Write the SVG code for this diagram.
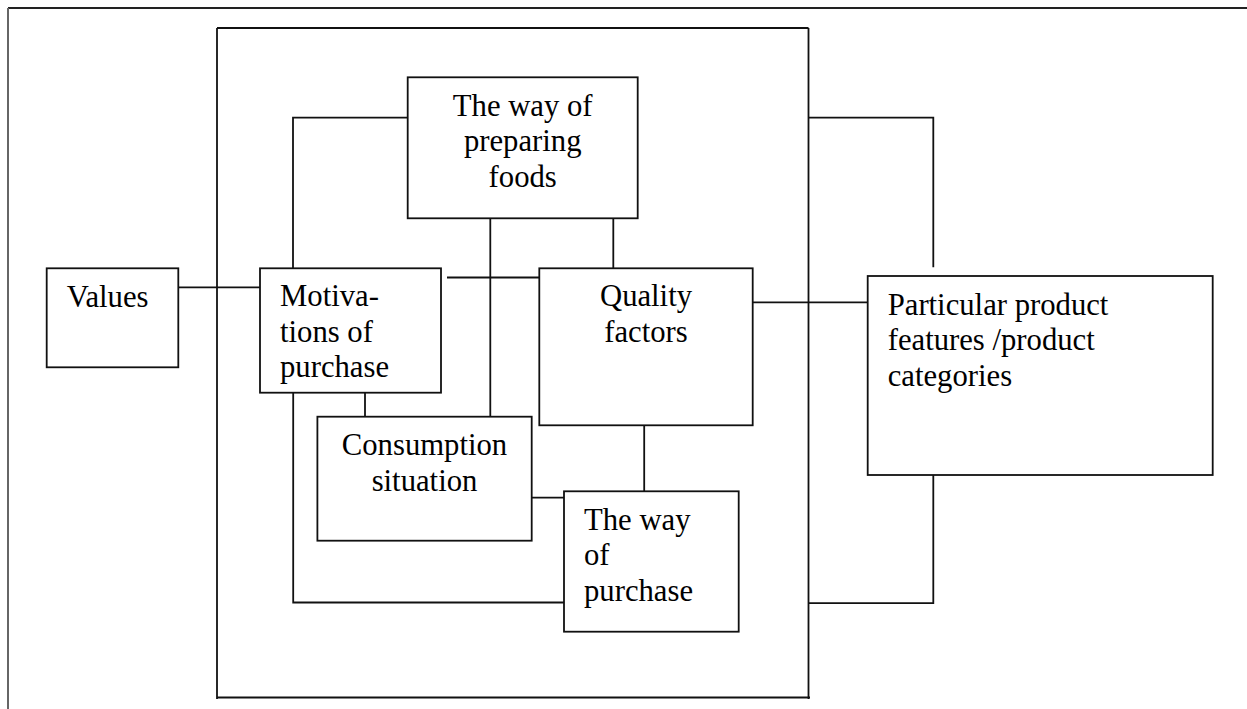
<svg xmlns="http://www.w3.org/2000/svg" width="1247" height="709" viewBox="0 0 1247 709">
<style>
.box{fill:#fff;stroke:#111;stroke-width:1.8}
.ln{fill:none;stroke:#111;stroke-width:1.8}
.t{font-family:"Liberation Serif","Times New Roman",serif;font-size:30.7px;fill:#000}
.c{text-anchor:middle}
</style>
<rect width="1247" height="709" fill="#fff"/>
<g id="page-border">
<line x1="8" y1="8" x2="1247" y2="8" stroke="#222" stroke-width="1.8"/>
<line x1="8" y1="8" x2="8" y2="709" stroke="#666" stroke-width="2"/>
</g>
<g id="frame">
<line class="ln" x1="217" y1="28" x2="808.5" y2="28"/>
<line class="ln" x1="217" y1="28" x2="217" y2="699"/>
<line class="ln" x1="808.5" y1="28" x2="808.5" y2="699"/>
<line class="ln" x1="217" y1="697.5" x2="810" y2="697.5"/>
</g>
<g id="connectors">
<line class="ln" x1="178.3" y1="287.3" x2="260" y2="287.3"/>
<polyline class="ln" points="293,268.3 293,117.7 407.7,117.7"/>
<line class="ln" x1="447" y1="277.5" x2="539.3" y2="277.5"/>
<line class="ln" x1="490.3" y1="218.3" x2="490.3" y2="416.7"/>
<line class="ln" x1="613.3" y1="218.3" x2="613.3" y2="268.3"/>
<line class="ln" x1="365" y1="392.7" x2="365" y2="416.7"/>
<polyline class="ln" points="293.2,392.7 293.2,602.5 564,602.5"/>
<line class="ln" x1="531.7" y1="497.7" x2="564" y2="497.7"/>
<line class="ln" x1="644.2" y1="425.3" x2="644.2" y2="491.3"/>
<line class="ln" x1="752.7" y1="302.3" x2="867.7" y2="302.3"/>
<polyline class="ln" points="808.5,117.6 933.3,117.6 933.3,267.3"/>
<polyline class="ln" points="933.3,475 933.3,603.2 808.5,603.2"/>
</g>
<g id="values">
<rect class="box" x="46.7" y="268.3" width="131.6" height="99"/>
<text class="t" x="66.7" y="306.7">Values</text>
</g>
<g id="preparing">
<rect class="box" x="407.7" y="77.3" width="230" height="141"/>
<text class="t c" x="522.7" y="115.7">The way of</text>
<text class="t c" x="522.7" y="151.2">preparing</text>
<text class="t c" x="522.7" y="186.7">foods</text>
</g>
<g id="motivations">
<rect class="box" x="260" y="268.3" width="181" height="124.4"/>
<text class="t" x="280" y="306">Motiva-</text>
<text class="t" x="280" y="341.5">tions of</text>
<text class="t" x="280" y="377">purchase</text>
</g>
<g id="quality">
<rect class="box" x="539.3" y="268.3" width="213.4" height="157"/>
<text class="t c" x="646" y="306">Quality</text>
<text class="t c" x="646" y="341.5">factors</text>
</g>
<g id="consumption">
<rect class="box" x="317.4" y="416.7" width="214.3" height="124"/>
<text class="t c" x="424.5" y="455">Consumption</text>
<text class="t c" x="424.5" y="490.5">situation</text>
</g>
<g id="purchase-way">
<rect class="box" x="564" y="491.3" width="174.7" height="140.4"/>
<text class="t" x="584" y="529.5">The way</text>
<text class="t" x="584" y="565">of</text>
<text class="t" x="584" y="600.5">purchase</text>
</g>
<g id="product">
<rect class="box" x="867.7" y="276" width="345" height="199"/>
<text class="t" x="887.7" y="314.5">Particular product</text>
<text class="t" x="887.7" y="350">features /product</text>
<text class="t" x="887.7" y="385.5">categories</text>
</g>
</svg>
